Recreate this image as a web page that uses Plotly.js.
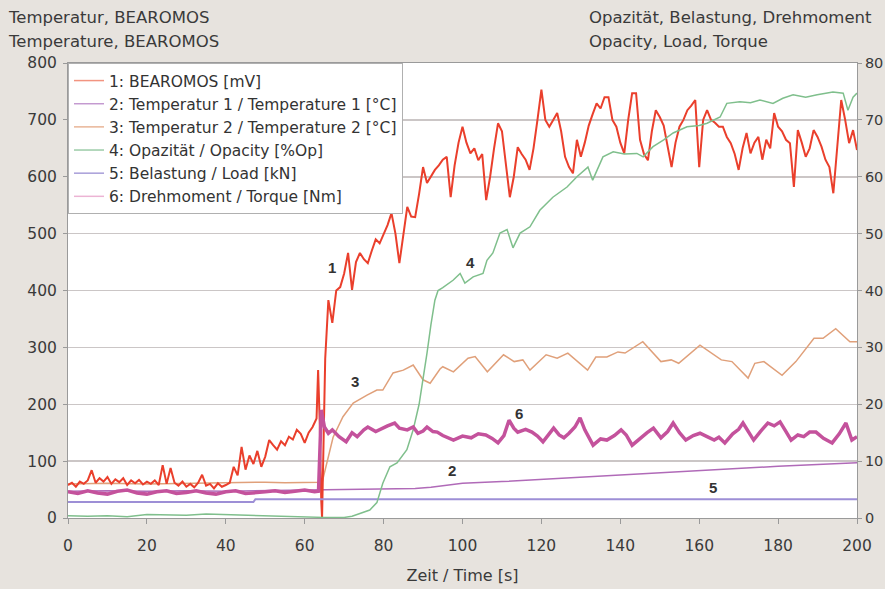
<!DOCTYPE html>
<html><head><meta charset="utf-8">
<script src="https://cdn.plot.ly/plotly-3.0.1.min.js"></script>
<style>html,body{margin:0;padding:0;background:#e7e3de;}#chart{width:885px;height:589px;}</style>
</head><body><div id="chart"></div>
<script>
// Series 1: BEAROMOS [mV]
const redTime = [0,1,2,3,4,5,6,7,8,9,10,11,12,13,14,15,16,17,18,19,20,21,22,23,24,25,26,27,28,29,30,31,32,33,34,35,36,37,38,39,40,41,42,43,44,45,46,47,48,49,50,51,52,53,54,55,56,57,58,59,60,61,62,63,63.4,63.8,64.2,64.4,65.2,66,67,
68,69,70,71,72,73,74,75,76,77,78,79,80,81,82,83,84,85,86,87,88,89,90,91,92,93,94,95,96,97,98,99,100,101,102,103,104,105,106,107,108,109,110,111,112,113,114,115,116,117,118,119,120,121,122,123,124,125,126,127,128,129,130,131,132,133,134,135,136,137,138,139,140,141,142,143,144,145,146,147,148,149,150,151,152,153,154,155,156,157,158,159,160,161,162,163,164,165,166,167,168,169,170,171,172,173,174,175,176,177,178,179,180,181,182,183,184,185,186,187,188,189,190,191,192,193,194,195,196,197,198,199,200];
const redMv = [58,62,55,64,60,66,84,62,70,64,72,60,68,63,70,58,66,61,67,59,64,60,66,58,93,60,88,62,57,64,55,60,54,62,76,57,60,52,61,55,58,62,90,75,125,85,110,95,118,90,108,137,128,120,135,128,143,138,155,148,132,150,160,175,260,170,30,0,280,383,343,
400,406,430,466,401,450,466,455,448,470,490,483,500,515,536,500,448,500,547,530,529,570,617,589,600,612,620,630,635,564,620,660,688,660,641,650,629,640,559,600,650,694,680,620,564,600,652,640,630,612,650,700,753,700,688,700,712,680,635,617,606,665,635,660,690,710,729,720,740,740,700,688,660,641,700,747,747,665,640,629,680,717,705,690,650,617,660,688,700,717,725,735,617,700,717,700,695,688,688,670,659,640,612,650,677,641,660,670,630,665,650,712,688,680,665,659,582,682,660,635,650,682,670,653,630,617,571,650,735,700,659,682,647];

// Series 2: Temperature 1 [°C]
const t1Time = [0,10,20,30,40,50,60,64,70,80,88,92,96,100,110,120,130,140,150,160,170,180,190,200];
const t1Val  = [47,48,47,48,47,48,48,49,50,51,52,54,58,61,64,68,72,76,80,84,88,91,94,97];

// Series 3: Temperature 2 [°C]
const t2Time = [0,10,20,30,40,43,50,55,60,64,64.5,65.6,67.2,69.7,72.3,75.8,78.3,79.8,82.4,85,87.5,90,91.8,94.3,95,97.7,101.4,103.2,106.3,110.4,113.1,115.3,117.1,121.2,124,126.7,131.7,133.8,136.6,139.4,141.2,145.7,150.3,152.9,154.8,160.2,165.6,168.3,172.4,174.1,176.4,181,184.5,189.1,191.4,194.6,198.2,200];
const t2Val  = [60,61,60,61,62,62,63,62,63,63,65,97,142,178,202,216,225,225,255,260,269,243,237,262,266,257,281,284,257,287,275,278,260,287,281,290,260,283,283,292,290,310,275,278,272,304,278,275,246,272,275,251,275,316,316,333,310,310];

// Series 4: Opacity [%Op]
const opTime = [0,5,10,15,20,25,30,35,40,45,50,55,60,65,70,72,74,76.5,78.3,79.8,81.6,83.4,85.9,87.5,89,90,91,92,93,93.8,95,97.6,99.4,100.6,102.7,105.2,106.2,107.7,109.5,111.3,112.8,114.6,117.1,119.6,122.9,126.5,129,131.8,133,135.6,138.2,141,144.2,145.8,148.3,151,153.4,156.9,160,162,165.3,167,170.3,173,175.4,178.7,181.2,183.8,187,189.9,193.9,196.5,197.7,199,200];
const opVal  = [0.4,0.3,0.4,0.2,0.6,0.6,0.5,0.7,0.6,0.4,0.3,0.3,0.2,0.1,0.1,0.3,0.8,1.4,2.7,6.1,9.0,9.7,12.0,15.5,20.0,24.3,29.0,34.0,38.3,40.0,40.5,41.8,43.0,41.3,42.4,43.0,45.3,46.6,50.1,50.7,47.5,50.1,51.2,54.1,56.4,58.2,60.0,61.7,59.4,63.5,64.4,64.0,64.1,63.5,65.3,66.5,67.7,68.8,69.0,69.4,70.5,72.9,73.2,73.0,73.5,72.9,73.8,74.4,74.0,74.4,74.9,74.7,71.7,74.0,74.7];

// Series 5: Load [kN]
const loadTime = [0,47,47.5,200];
const loadVal  = [2.8,2.8,3.3,3.3];

// Series 6: Torque [Nm]
const tqTime = [0,2.5,5,7.5,10,12.5,15,17.5,20,22.5,25,27.5,30,32.5,35,37.5,40,42.5,45,47.5,50,52.5,55,57.5,60,62.5,63.5,64.2,65,66,67,68.7,70.5,72,73.3,75,76,78,79.6,81,82.8,84,86,87.5,88.7,90,91,92.5,93.6,95,97.7,100,102.2,104,105.9,107.5,109,110.5,111.8,113,114,116,117.6,119,120.4,122,123.1,124.5,125.7,127,128.5,129.8,131,133.1,135,136.6,138.5,140.2,141.5,143,145,146.8,148.4,150.3,152,153.4,155,156.6,158.5,160.2,162,163.8,165,166.5,168.5,170,171.1,172.5,173.8,175.5,177.4,179,180.5,182,183.3,185,186.5,188,189.6,191.5,193.7,195.5,197.2,198.7,200];
const tqVal  = [4.6,4.3,4.8,4.4,4.2,4.7,4.9,4.4,4.2,4.6,4.8,4.3,4.5,4.8,4.4,4.2,4.6,4.8,4.3,4.4,4.6,4.8,4.5,4.7,4.9,4.6,4.7,19.0,16.0,14.9,15.5,14.3,13.4,15.0,14.3,15.5,16.0,15.2,15.8,16.2,16.7,15.8,15.5,16.0,14.9,15.3,16.0,15.2,15.1,14.5,13.7,14.4,14.1,14.8,14.6,14.0,13.2,14.5,17.2,15.8,15.1,15.6,15.1,14.4,13.4,14.8,15.8,14.6,14.1,14.9,16.0,17.6,15.5,12.8,13.9,13.7,14.5,15.5,14.6,12.8,14.0,15.0,15.8,14.1,15.2,16.7,15.0,13.7,14.5,14.9,14.3,13.7,14.2,13.2,14.8,15.6,16.7,15.0,13.7,15.2,16.7,16.2,16.9,15.2,13.7,14.6,14.3,15.1,15.1,14.0,13.2,14.8,16.7,13.7,14.3];

const names = ['1: BEAROMOS [mV]','2: Temperatur 1 / Temperature 1 [°C]','3: Temperatur 2 / Temperature 2 [°C]','4: Opazität / Opacity [%Op]','5: Belastung / Load [kN]','6: Drehmoment / Torque [Nm]'];
const labels = [{t:'1',x:66.9,y:441},{t:'3',x:72.7,y:240},{t:'4',x:101.9,y:450},{t:'6',x:114.3,y:184},{t:'2',x:97.3,y:84},{t:'5',x:163.5,y:53}];

const font = 'DejaVu Sans, Liberation Sans, Arial, sans-serif';
function tr(x,y,name,color,width,axis){
  return {x:x,y:y,name:name,type:'scatter',mode:'lines',line:{color:color,width:width},
    yaxis:axis,showlegend:false,hoverinfo:'skip'};
}
function leg(name,color,rank){
  return {x:[null],y:[null],name:name,type:'scatter',mode:'lines',line:{color:color,width:1.5},
    legendrank:rank,legendgroup:'g'+rank,showlegend:true,hoverinfo:'skip'};
}
const data = [
  tr(loadTime,loadVal,names[4],'#9d8fd6',2,'y2'),
  tr(t1Time,t1Val,names[1],'#b06ab8',1.5,'y'),
  tr(t2Time,t2Val,names[2],'#e0a07a',1.5,'y'),
  tr(opTime,opVal,names[3],'#7fbf8c',1.5,'y2'),
  tr(tqTime,tqVal,names[5],'#c4529c',3.5,'y2'),
  tr(redTime,redMv,names[0],'#ea3f2c',2,'y'),
  leg(names[0],'#f29480',1),
  leg(names[1],'#c49ad0',2),
  leg(names[2],'#e9b597',3),
  leg(names[3],'#9ccca8',4),
  leg(names[4],'#a89ed8',5),
  leg(names[5],'#ecb4d4',6)
];
const ann = labels.map(l=>({x:l.x,y:l.y,xref:'x',yref:'y',text:'<b>'+l.t+'</b>',showarrow:false,font:{family:'Liberation Sans, Arial, sans-serif',size:15,color:'#333'}}));
function titleAnn(text,xpx,ypx){
  return {xref:'paper',yref:'paper',x:(xpx-68)/789,y:(518-ypx)/455,xanchor:'left',yanchor:'middle',text:text,showarrow:false,font:{family:font,size:16.5,color:'#3a3a3a'}};
}
ann.push(titleAnn('Temperatur, BEAROMOS',6,18));
ann.push(titleAnn('Temperature, BEAROMOS',6,42));
ann.push(titleAnn('Opazität, Belastung, Drehmoment',587,18));
ann.push(titleAnn('Opacity, Load, Torque',587,42));

const layout = {
  width:885,height:589,
  paper_bgcolor:'#e7e3de',plot_bgcolor:'#ffffff',
  margin:{l:68,r:28,t:63,b:71},
  font:{family:font,size:15.5,color:'#3a3a3a'},
  showlegend:true,
  legend:{x:0,y:1,xanchor:'left',yanchor:'top',bgcolor:'#ffffff',bordercolor:'#b0b0b0',borderwidth:1,
    font:{family:font,size:15.5,color:'#333'},tracegroupgap:2,itemwidth:30,traceorder:'normal'},
  xaxis:{range:[0,200],dtick:20,tick0:0,showgrid:false,zeroline:false,showline:true,linecolor:'#9a9a9a',linewidth:1,mirror:true,
    ticks:'outside',ticklen:5,tickcolor:'#9a9a9a',ticklabelstandoff:8,
    title:{text:'Zeit / Time [s]',font:{family:font,size:16,color:'#3a3a3a'},standoff:16}},
  yaxis:{range:[0,800],dtick:100,tick0:0,showgrid:true,gridcolor:'#cbc6c6',gridwidth:1.5,zeroline:false,showline:true,linecolor:'#9a9a9a',
    ticks:'outside',ticklen:4,tickcolor:'#9a9a9a',ticklabelstandoff:3},
  yaxis2:{range:[0,80],dtick:10,tick0:0,overlaying:'y',side:'right',showgrid:false,zeroline:false,showline:true,linecolor:'#9a9a9a',
    ticks:'outside',ticklen:4,tickcolor:'#9a9a9a',ticklabelstandoff:0,tickfont:{family:font,size:14.5,color:'#3a3a3a'}},
  annotations:ann
};
Plotly.newPlot('chart',data,layout,{displayModeBar:false,staticPlot:true});
</script></body></html>
